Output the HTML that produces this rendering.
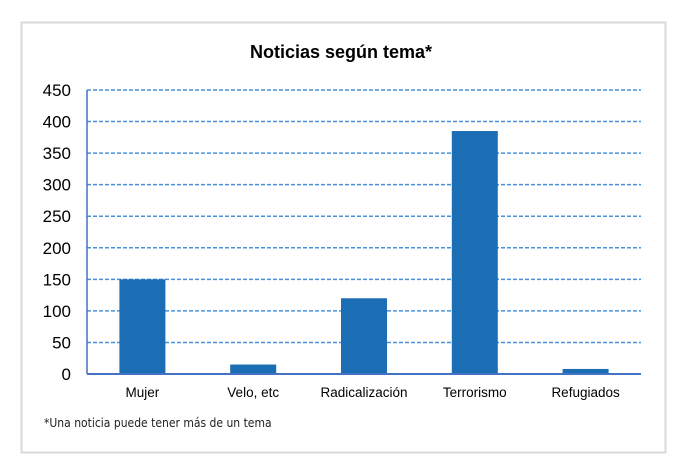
<!DOCTYPE html>
<html><head><meta charset="utf-8"><style>
body{margin:0;background:#fff;}
svg{display:block;font-family:"Liberation Sans",sans-serif;}
</style></head><body>
<svg id="chart" width="682" height="472">
<rect x="21.5" y="22.5" width="644" height="430" fill="#fff" stroke="#d9d9d9" stroke-width="2"/>
<text x="341" y="58" text-anchor="middle" font-size="18" font-weight="bold" fill="#000">Noticias según tema*</text>
<g id="grid"></g><g id="bars"></g><g id="axes"></g>
<text x="44" y="427" font-size="12" fill="#222" font-family="'DejaVu Sans Condensed','Liberation Sans',sans-serif">*Una noticia puede tener más de un tema</text>
</svg>
<script>
const categories=["Mujer","Velo, etc","Radicalización","Terrorismo","Refugiados"];
const values=[150,15,120,385,8];
const ticks=[0,50,100,150,200,250,300,350,400,450];
const NS="http://www.w3.org/2000/svg";
const x0=87,x1=641,y0=374,y1=90,maxV=450;
const band=(x1-x0)/categories.length,bw=46;
function y(v){return y0-(v/maxV)*(y0-y1);}
function xc(i){return x0+band*(i+0.5);}
function mk(t,a,p){const e=document.createElementNS(NS,t);for(const k in a)e.setAttribute(k,a[k]);p.appendChild(e);return e;}
const grid=document.getElementById('grid'),bars=document.getElementById('bars'),axes=document.getElementById('axes');
ticks.forEach(t=>{
 if(t>0){const l=mk('line',{x1:x0,x2:x1,y1:y(t),y2:y(t),stroke:'#4a90d9','stroke-width':1.5,'stroke-dasharray':'4,2'},grid);
 
 }
 const tx=mk('text',{x:x0-16,y:y(t)+6,'text-anchor':'end','font-size':17,fill:'#000'},axes);
 tx.textContent=t;
 
 
});
values.forEach((v,i)=>{
 const r=mk('rect',{x:xc(i)-bw/2,y:y(v),width:bw,height:y0-y(v),fill:'#1b6db4'},bars);
 
 
 const t=mk('text',{x:xc(i),y:397,'text-anchor':'middle','font-size':13.5,fill:'#000'},axes);
 t.textContent=categories[i];
 
 
});
const ya=mk('line',{x1:x0,x2:x0,y1:y1,y2:y0,stroke:'#4472c4','stroke-width':1.5},axes);


const xa=mk('line',{x1:x0,x2:x1,y1:y0,y2:y0,stroke:'#4472c4','stroke-width':2},axes);


</script>
</body></html>
